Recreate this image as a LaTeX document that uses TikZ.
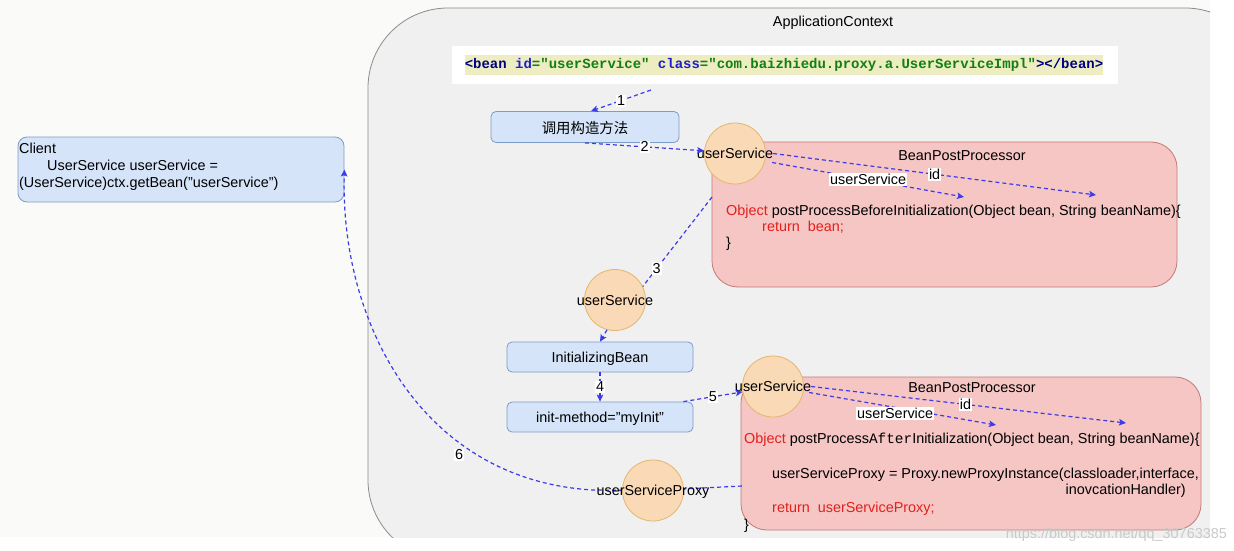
\documentclass[tikz,border=0pt]{standalone}
\usepackage{fontspec}
\setmainfont{Liberation Sans}
\setmonofont{Liberation Mono}
\newfontfamily\cjkfont{Noto Sans CJK SC}
\usetikzlibrary{arrows.meta,calc}
\definecolor{pagebg}{HTML}{FAFAF9}
\definecolor{ctxfill}{HTML}{F0F0F0}
\definecolor{ctxdraw}{HTML}{8C8C8C}
\definecolor{bluefill}{HTML}{D5E4F8}
\definecolor{bluedraw}{HTML}{7E9CC8}
\definecolor{redfill}{HTML}{F5C6C4}
\definecolor{reddraw}{HTML}{C27A76}
\definecolor{orfill}{HTML}{FADAB6}
\definecolor{ordraw}{HTML}{E3B66E}
\definecolor{arrowblue}{HTML}{3B3BE8}
\definecolor{codered}{HTML}{E3201C}
\definecolor{hl}{HTML}{EEEDC2}
\definecolor{navy}{HTML}{000080}
\definecolor{attrblue}{HTML}{1E1ECF}
\definecolor{valgreen}{HTML}{117F11}
\definecolor{wm}{HTML}{C9C9C9}
\begin{document}
\begin{tikzpicture}[x=1pt,y=-1pt,
  every node/.style={font=\fontsize{14.4}{17}\selectfont},
  bluebox/.style={draw=bluedraw, fill=bluefill, rounded corners=5pt, line width=0.8pt, text depth=0pt},
  redbox/.style={draw=reddraw, fill=redfill, rounded corners=26pt, line width=0.8pt},
  bean/.style={circle, draw=ordraw, fill=orfill, minimum size=61pt, inner sep=0pt, line width=0.8pt},
  txt/.style={inner sep=0pt, text depth=0pt},
  conn/.style={draw=arrowblue, dash pattern=on 4pt off 3pt, line width=1.2pt},
  arr/.style={conn, -{Stealth[length=7pt,width=6.5pt,inset=1.5pt]}},
  lbl/.style={fill=white, inner sep=1pt},
]
\useasboundingbox (0,0) rectangle (1234,551);
\fill[white] (0,0) rectangle (1234,551);
\fill[pagebg] (0,0) rectangle (1210,537);
\begin{scope}
  \clip (0,0) rectangle (1210,537);
  \draw[draw=ctxdraw, fill=ctxfill, line width=0.8pt, rounded corners=80pt] (368,8) rectangle (1265,560);
\end{scope}
\node[txt] (ctxlabel) at (833,21) {ApplicationContext};

% bean definition
\node[fill=white, minimum width=666pt, minimum height=38pt, inner sep=0pt] (beanbox) at (785,65) {};
\node[fill=hl, inner xsep=0pt, inner ysep=3pt, font=\fontsize{14}{16}\selectfont\ttfamily\bfseries] (beancode) at (784,65)
  {\textcolor{navy}{<bean} \textcolor{attrblue}{id}\textcolor{valgreen}{="userService"} \textcolor{attrblue}{class}\textcolor{valgreen}{="com.baizhiedu.proxy.a.UserServiceImpl"}\textcolor{navy}{></bean>}};

% blue boxes
\node[bluebox, minimum width=188pt, minimum height=31pt] (ctor) at (585,127) {\cjkfont 调用构造方法};
\node[bluebox, minimum width=186pt, minimum height=30pt] (initb) at (600,357) {InitializingBean};
\node[bluebox, minimum width=186pt, minimum height=30pt] (initm) at (600,417) {init-method="myInit"};
\node[bluebox, minimum width=326pt, minimum height=65pt, rounded corners=9pt] (client) at (181,169.5) {};
\node[inner sep=0pt, anchor=north west, align=left] (clienttext) at (19,142.5)
  {Client\\\hspace*{28pt}UserService userService =\\(UserService)ctx.getBean("userService")};

% red boxes
\node[redbox, minimum width=465pt, minimum height=145pt] (bpp1) at (944.5,214.5) {};
\node[redbox, minimum width=460pt, minimum height=153pt] (bpp2) at (971,453.5) {};
\node[txt] (bpp1t) at (962,155.5) {BeanPostProcessor};
\node[txt] (bpp2t) at (972,387.5) {BeanPostProcessor};

% code in box 1
\node[txt, anchor=base west] (c1a) at (726,215) {\textcolor{codered}{Object} postProcessBeforeInitialization(Object bean, String beanName)\{};
\node[txt, anchor=base west, text=codered] (c1b) at (762,231.5) {return\ \ bean;};
\node[txt, anchor=base west] (c1c) at (726,247.5) {\}};

% code in box 2
\node[txt, anchor=base west] (c2a) at (744,443.5) {\textcolor{codered}{Object} postProcess{\ttfamily After}Initialization(Object bean, String beanName)\{};
\node[txt, anchor=base west] (c2b) at (772,478.5) {userServiceProxy = Proxy.newProxyInstance(classloader,interface,};
\node[txt, anchor=base east] (c2c) at (1186,494.5) {inovcationHandler)};
\node[txt, anchor=base west, text=codered] (c2d) at (772,512.5) {return\ \ userServiceProxy;};
\node[txt, anchor=base west] (c2e) at (744,529) {\}};

% return path 6
\coordinate (c6s) at (742,486);
\coordinate (c6p) at (653,490.5);
\coordinate (c6m) at (593,490);
\draw[arr] (c6s) -- (c6p) -- (c6m) .. controls (420,480) and (340,320) .. (client.east);
\node[lbl] (l6) at (459,455) {6};

% beans (circles)
\node[bean] (us1) at (735,153.5) {};
\node[txt] (us1t) at (us1) {userService};
\node[bean] (us2) at (615,300) {};
\node[txt] (us2t) at (us2) {userService};
\node[bean] (us3) at (773,386.5) {};
\node[txt] (us3t) at (us3) {userService};
\node[bean] (proxy) at (c6p) {};
\node[txt] (proxyt) at (proxy) {userServiceProxy};

% connectors
\coordinate (a1s) at (651,90);
\draw[arr] (a1s) -- ($(ctor.north)+(6,0)$) node[lbl,pos=0.5] (l1) {1};
\draw[arr] (ctor.south) -- (us1.175) node[lbl,pos=0.5] (l2) {2};
\coordinate (id1e) at (1096,195);
\coordinate (e1us) at (964,197);
\draw[arr] (us1t.east) -- (id1e) node[lbl,pos=0.5] (lid1) {id};
\draw[arr] ($(us1t.east)+(-1,9)$) -- (e1us) node[lbl,pos=0.5] (lus1) {userService};
\coordinate (a3s) at (712,197);
\draw[conn] (a3s) -- (us2.26) node[lbl,pos=0.8] (l3) {3};
\draw[arr] (us2.255) -- (initb.north);
\draw[arr] (initb.south) -- (initm.north) node[lbl,pos=0.5] (l4) {4};
\draw[arr] ($(initm.north east)+(-10,0)$) -- (us3.190) node[lbl,pos=0.5] (l5) {5};
\coordinate (id2e) at (1126,423);
\coordinate (e2us) at (996,425);
\draw[arr] (us3t.east) -- (id2e) node[lbl,pos=0.49] (lid2) {id};
\draw[arr] ($(us3t.east)+(-2,6)$) -- (e2us) node[lbl,pos=0.46,yshift=-6pt] (lus2) {userService};

% watermark
\node[txt, anchor=base east, text=wm] (wmk) at (1227,538) {https://blog.csdn.net/qq\_30763385};
\end{tikzpicture}
\end{document}
